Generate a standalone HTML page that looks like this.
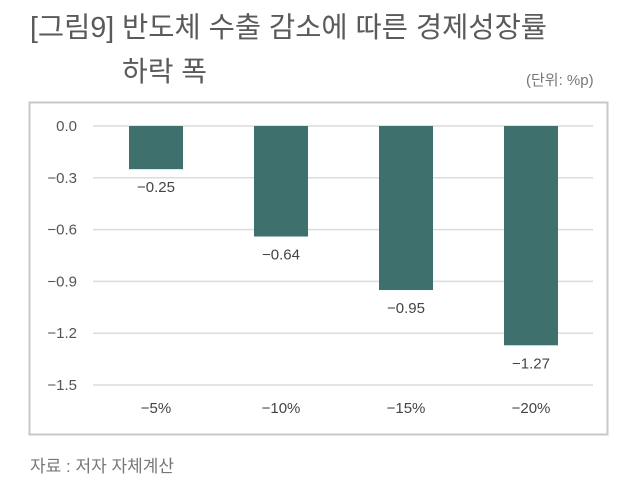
<!DOCTYPE html>
<html><head><meta charset="utf-8">
<style>
body{margin:0;width:640px;height:480px;background:#fff;overflow:hidden;font-family:"Liberation Sans","Noto Sans CJK KR",sans-serif;}
.t{position:absolute;color:#555;white-space:nowrap;}
</style></head>
<body>
<div class="t" style="left:30px;top:5px;font-size:28.5px;color:#5a5a5a;">[그림9] 반도체 수출 감소에 따른 경제성장률</div>
<div class="t" style="left:122px;top:50px;font-size:28px;color:#5a5a5a;">하락 폭</div>
<div class="t" style="left:526px;top:69px;font-size:15px;color:#777;">(단위: %p)</div>
<svg id="chart" width="640" height="480" style="position:absolute;left:0;top:0">
<rect x="29.5" y="102.5" width="578" height="332" fill="none" stroke="#c8c8c8" stroke-width="2"/>
</svg>
<div class="t" style="left:30px;top:452px;font-size:17px;color:#777;">자료 : 저자 자체계산</div>
<script>
const categories=["−5%","−10%","−15%","−20%"];
const values=[-0.25,-0.64,-0.95,-1.27];
const valueLabels=["−0.25","−0.64","−0.95","−1.27"];
const ticks=[0,-0.3,-0.6,-0.9,-1.2,-1.5];
const tickLabels=["0.0","−0.3","−0.6","−0.9","−1.2","−1.5"];
const svg=document.getElementById('chart');
const NS="http://www.w3.org/2000/svg";
const y=v=>126+(-v)*(385-126)/1.5;
const x=i=>156+i*125;
function mk(t,a){const e=document.createElementNS(NS,t);for(const k in a)e.setAttribute(k,a[k]);svg.appendChild(e);return e;}
ticks.forEach((t,i)=>{
 const l=mk('line',{x1:93,x2:593,y1:y(t),y2:y(t),stroke:'#dcdcdc','stroke-width':1.5});
 
 
 const tx=mk('text',{x:77,y:y(t)+5,'text-anchor':'end','font-size':15,fill:'#555','font-family':'Liberation Sans, sans-serif'});
 tx.textContent=tickLabels[i];
 
 
});
values.forEach((v,i)=>{
 const b=mk('rect',{x:x(i)-27,y:y(0),width:54,height:y(v)-y(0),fill:'#3e716d'});
 
 
 const vl=mk('text',{x:x(i),y:y(v)+23,'text-anchor':'middle','font-size':15,fill:'#444','font-family':'Liberation Sans, sans-serif'});
 vl.textContent=valueLabels[i];
 
 
 const cl=mk('text',{x:x(i),y:413,'text-anchor':'middle','font-size':15,fill:'#444','font-family':'Liberation Sans, sans-serif'});
 cl.textContent=categories[i];
 
 
});
</script>
</body></html>
